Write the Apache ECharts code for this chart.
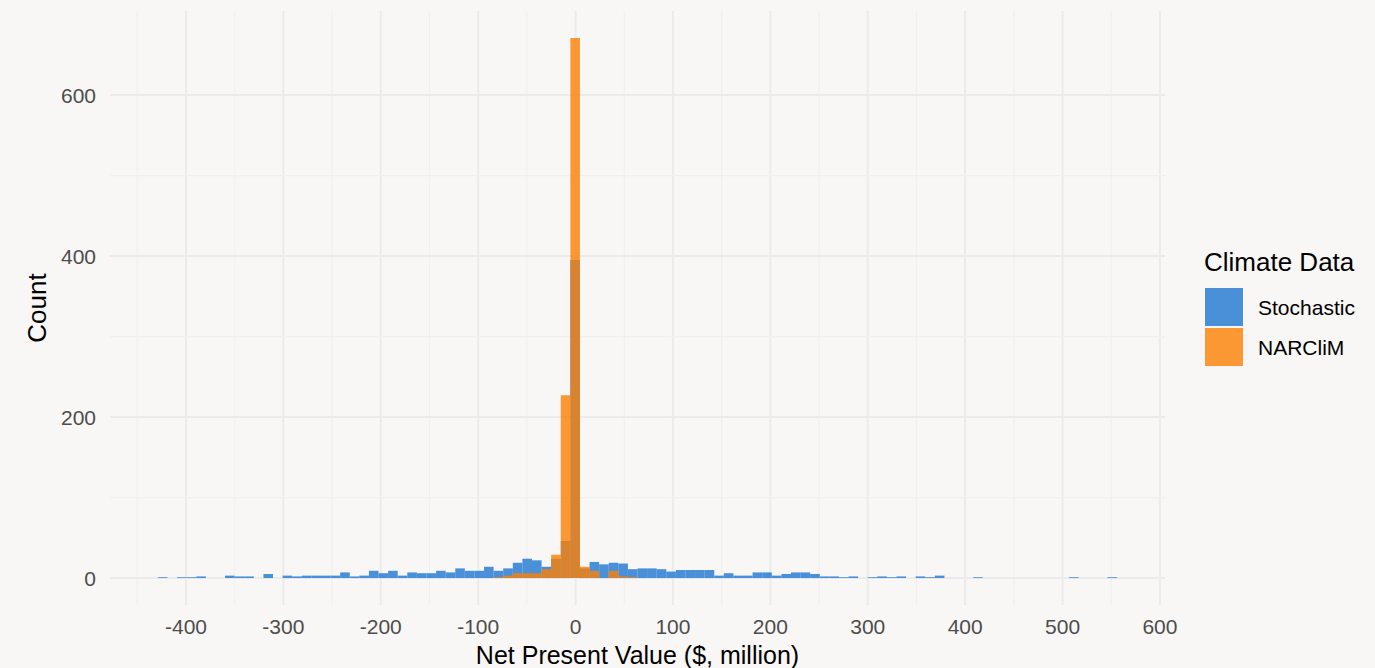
<!DOCTYPE html>
<html><head><meta charset="utf-8">
<script src="https://cdn.jsdelivr.net/npm/echarts@6/dist/echarts.min.js"></script>
<style>html,body{margin:0;padding:0;background:#ffffff}#c{width:1375px;height:668px}</style>
</head><body><div id="c"></div>
<script>
// Histogram bins (100 bins, shared by both series)
const binStart = -428.8;
const binWidth = 9.848;
const stochastic = [
  1,0,1,1,2,0,0,3,2,2,
  0,5,0,3,2,3,3,3,3,7,
  2,3,9,6,9,3,7,6,6,9,
  7,12,9,9,14,9,12,19,24,22,
  14,24,46,395,12,20,17,19,18,11,
  12,12,11,8,10,10,10,10,3,6,
  3,3,7,7,3,5,7,7,5,2,
  2,1,2,0,1,2,1,2,0,2,
  1,3,0,0,0,1,0,0,0,0,
  0,0,0,0,0,1,0,0,0,1
];
const narclim = [
  0,0,0,0,0,0,0,0,0,0,
  0,0,0,0,0,0,0,0,0,0,
  0,0,0,0,0,0,0,0,0,0,
  0,0,0,0,0,1,3,6,6,6,
  11,29,227,671,14,9,0,9,2,1,
  0,0,0,0,0,0,0,0,0,0,
  0,0,0,0,0,0,0,0,0,0,
  0,0,0,0,0,0,0,0,0,0,
  0,0,0,0,0,0,0,0,0,0,
  0,0,0,0,0,0,0,0,0,0
];
const seriesNames = ['Stochastic', 'NARCliM'];
const xTicks = [-400,-300,-200,-100,0,100,200,300,400,500,600];
const xMinor = [-450,-350,-250,-150,-50,50,150,250,350,450,550];
const yTicks = [0,200,400,600];
const yMinor = [100,300,500];
const xRange = [-478, 605.2];
const yRange = [-33.5, 704.5];

const FONT = '"Liberation Sans", Arial, sans-serif';

function toBins(counts) {
  const out = [];
  counts.forEach((c, i) => {
    if (c > 0) out.push([binStart + i * binWidth, binStart + (i + 1) * binWidth, c]);
  });
  return out;
}

function barItem(params, api) {
  const p0 = api.coord([api.value(0), 0]);
  const p1 = api.coord([api.value(1), api.value(2)]);
  return {
    type: 'rect',
    shape: { x: p0[0], y: p1[1], width: p1[0] - p0[0], height: p0[1] - p1[1] },
    style: { fill: api.visual('color') }
  };
}

function vLine(params, api) {
  const v = api.value(0), major = api.value(1) === 1;
  const a = api.coord([v, yRange[0]]), b = api.coord([v, yRange[1]]);
  return { type: 'line', shape: { x1: a[0], y1: a[1], x2: b[0], y2: b[1] },
    style: { stroke: major ? '#EBEBEB' : '#F0F0EF', lineWidth: major ? 2 : 1.2 } };
}
function hLine(params, api) {
  const v = api.value(1), major = api.value(2) === 1;
  const a = api.coord([xRange[0], v]), b = api.coord([xRange[1], v]);
  return { type: 'line', shape: { x1: a[0], y1: a[1], x2: b[0], y2: b[1] },
    style: { stroke: major ? '#EBEBEB' : '#F0F0EF', lineWidth: major ? 2 : 1.2 } };
}

const vData = xMinor.map(v => [v, 0]).concat(xTicks.map(v => [v, 1]));
const hData = yMinor.map(v => [0, v, 0]).concat(yTicks.map(v => [0, v, 1]));

const chart = echarts.init(document.getElementById('c'), null, { renderer: 'svg' });
chart.setOption({
  backgroundColor: '#F8F7F5',
  animation: false,
  grid: { left: 110, top: 11, width: 1055, height: 594, containLabel: false, outerBoundsMode: 'none' },
  xAxis: {
    type: 'value', min: xRange[0], max: xRange[1],
    axisLine: { show: false }, axisTick: { show: false }, splitLine: { show: false },
    axisLabel: { customValues: xTicks, color: '#4D4D4D', fontSize: 21, margin: 11, fontFamily: FONT },
    name: 'Net Present Value ($, million)', nameLocation: 'middle', nameGap: 37,
    nameTextStyle: { color: '#000', fontSize: 25, lineHeight: 25, fontFamily: FONT }
  },
  yAxis: {
    type: 'value', min: yRange[0], max: yRange[1],
    axisLine: { show: false }, axisTick: { show: false }, splitLine: { show: false },
    axisLabel: { customValues: yTicks, color: '#4D4D4D', fontSize: 21, margin: 14, fontFamily: FONT },
    name: 'Count', nameLocation: 'middle', nameGap: 55, nameRotate: 90,
    nameTextStyle: { color: '#000', fontSize: 26, fontFamily: FONT }
  },
  legend: {
    data: seriesNames, orient: 'vertical', left: 1205, top: 288,
    itemWidth: 38, itemHeight: 38, itemGap: 2, icon: 'rect', padding: 0,
    textStyle: { fontSize: 21, color: '#000', fontFamily: FONT, padding: [0, 0, 0, 10] }
  },
  graphic: [{
    type: 'text', left: 1204, top: 249,
    style: { text: 'Climate Data', font: '26px "Liberation Sans", Arial, sans-serif', fill: '#000' }
  }],
  series: [
    { type: 'custom', name: 'gridV', renderItem: vLine, data: vData, encode: { x: 0 }, silent: true, z: 0, clip: true },
    { type: 'custom', name: 'gridH', renderItem: hLine, data: hData, encode: { x: 0, y: 1 }, silent: true, z: 0, clip: true },
    { type: 'custom', name: seriesNames[0], renderItem: barItem, data: toBins(stochastic),
      encode: { x: [0, 1], y: 2 }, itemStyle: { color: 'rgba(30,118,210,0.8)' }, z: 2 },
    { type: 'custom', name: seriesNames[1], renderItem: barItem, data: toBins(narclim),
      encode: { x: [0, 1], y: 2 }, itemStyle: { color: 'rgba(253,127,3,0.8)' }, z: 3 }
  ]
});
</script></body></html>
